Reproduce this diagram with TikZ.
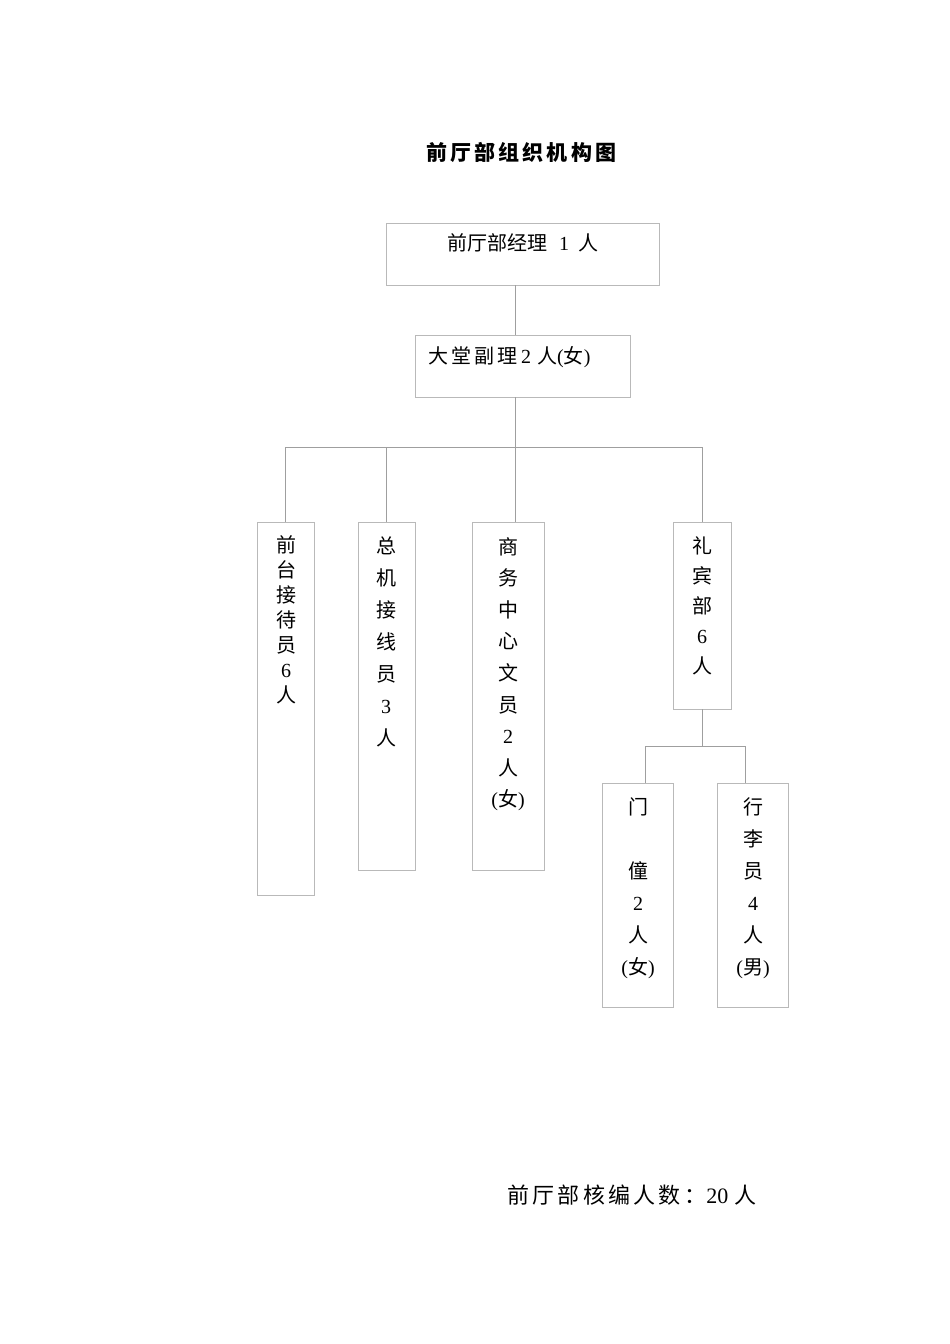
\documentclass[tikz,border=0pt]{standalone}
\usepackage{fontspec}
\setmainfont{Liberation Serif}
\newfontfamily\cjk{Noto Sans CJK SC}
\newfontfamily\cjkw[LetterSpace=15]{Noto Sans CJK SC}
\usetikzlibrary{positioning}

\tikzset{
  box/.style={draw=gray!55, line width=0.8pt, inner sep=0pt},
  link/.style={draw=gray!75, line width=0.8pt},
  vtext/.style={align=center, anchor=north, inner sep=0pt},
}

\begin{document}
\begin{tikzpicture}[x=1pt,y=-1pt]
    \useasboundingbox (0,0) rectangle (950,1344);

    % title
    \node[anchor=base west, inner sep=0pt, font=\fontsize{21}{25}\selectfont\bfseries] (title) at (426,160) {\cjkw 前厅部组织机构图};

    % top boxes
    \node[box, minimum width=273, minimum height=62] (jl) at (522.5,254) {};
    \node[anchor=base west, inner sep=0pt, font=\fontsize{20}{25}\selectfont] (jlt) at (447,250) {{\cjk 前厅部经理}\hspace{12pt}1\hspace{9pt}{\cjk 人}};
    \node[box, minimum width=215, minimum height=62] (fl) at (522.5,366) {};
    \node[anchor=base west, inner sep=0pt, font=\fontsize{20}{25}\selectfont] (flt) at (428,363) {{\cjkw 大堂副理}\hspace{4pt}2\hspace{6pt}{\cjk 人}({\cjk 女})};

    % second level
    \node[box, minimum width=57, minimum height=373] (qt) at (285.5,708.5) {};
    \node[vtext, font=\fontsize{20}{25}\selectfont] (qtt) at (286,535) {\cjk 前\\\cjk 台\\\cjk 接\\\cjk 待\\\cjk 员\\6\\\cjk 人};
    \node[box, minimum width=57, minimum height=348] (zj) at (386.5,696) {};
    \node[vtext, font=\fontsize{20}{32}\selectfont] (zjt) at (386,537) {\cjk 总\\\cjk 机\\\cjk 接\\\cjk 线\\\cjk 员\\3\\\cjk 人};
    \node[box, minimum width=72, minimum height=348] (sw) at (508,696) {};
    \node[vtext, font=\fontsize{20}{31.6}\selectfont] (swt) at (508,537) {\cjk 商\\\cjk 务\\\cjk 中\\\cjk 心\\\cjk 文\\\cjk 员\\2\\\cjk 人\\({\cjk 女})};
    \node[box, minimum width=58, minimum height=187] (lb) at (702,615.5) {};
    \node[vtext, font=\fontsize{20}{30}\selectfont] (lbt) at (702,536) {\cjk 礼\\\cjk 宾\\\cjk 部\\6\\\cjk 人};

    % third level
    \node[box, minimum width=71, minimum height=224] (md) at (637.5,895) {};
    \node[vtext, font=\fontsize{20}{32}\selectfont] (mdt) at (638,797) {\cjk 门\\\phantom{\cjk 门}\\\cjk 僮\\2\\\cjk 人\\({\cjk 女})};
    \node[box, minimum width=71, minimum height=224] (xl) at (752.5,895) {};
    \node[vtext, font=\fontsize{20}{32}\selectfont] (xlt) at (753,797) {\cjk 行\\\cjk 李\\\cjk 员\\4\\\cjk 人\\({\cjk 男})};

    % connectors
    \coordinate (mid) at (515,447);
    \coordinate (sub) at (702,746);
    \coordinate (subl) at (645,746);
    \coordinate (subr) at (745,746);
    \draw[link] (jl.south -| mid) -- (fl.north -| mid);
    \draw[link] (fl.south -| mid) -- (mid);
    \draw[link] (qt.north |- mid) -- (lb.north |- mid);
    \draw[link] (qt.north |- mid) -- (qt.north);
    \draw[link] (zj.north |- mid) -- (zj.north);
    \draw[link] (mid) -- (sw.north -| mid);
    \draw[link] (lb.north |- mid) -- (lb.north);
    \draw[link] (lb.south) -- (sub);
    \draw[link] (subl) -- (subr);
    \draw[link] (subl) -- (subl |- md.north);
    \draw[link] (subr) -- (subr |- xl.north);

    % footer
    \node[anchor=base west, inner sep=0pt, font=\fontsize{22}{26}\selectfont] (total) at (507,1203) {{\cjkw 前厅部核编人数：}20\hspace{6pt}{\cjk 人}};
\end{tikzpicture}
\end{document}
